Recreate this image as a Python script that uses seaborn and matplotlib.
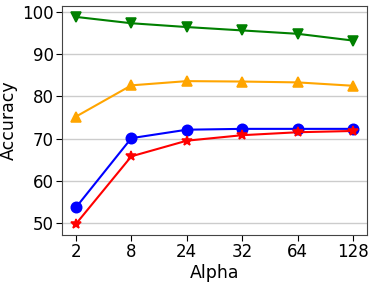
import matplotlib
matplotlib.use("Agg")
import matplotlib.pyplot as plt
import seaborn as sns

alphas = ["2", "8", "24", "32", "64", "128"]
green_acc = [98.8, 97.3, 96.4, 95.6, 94.8, 93.2]
orange_acc = [75.2, 82.6, 83.6, 83.5, 83.3, 82.5]
blue_acc = [53.7, 70.1, 72.1, 72.3, 72.3, 72.3]
red_acc = [49.8, 65.8, 69.5, 70.8, 71.5, 71.8]

sns.set_style("ticks")
plt.rcParams["font.family"] = ["DejaVu Sans"]
plt.rcParams["text.color"] = "black"
plt.rcParams["axes.labelcolor"] = "black"
plt.rcParams["xtick.color"] = "black"
plt.rcParams["ytick.color"] = "black"

fig = plt.figure(figsize=(3.74, 2.82), dpi=100)
ax = fig.add_axes([0.166, 0.167, 0.815, 0.812])

series = [
    (green_acc, "green", "v"),
    (orange_acc, "orange", "^"),
    (blue_acc, "blue", "o"),
    (red_acc, "red", "*"),
]
for vals, col, mk in series:
    sns.pointplot(x=alphas, y=vals, color=col, marker=mk, markersize=7.5,
                  linewidth=1.5, ax=ax)

ax.set_xlim(-0.25, 5.25)
ax.set_ylim(47.2, 101.4)
ax.set_yticks([50, 60, 70, 80, 90, 100])
ax.yaxis.grid(True, color="#cccccc", linewidth=1)
ax.xaxis.grid(False)
ax.set_axisbelow(True)
for s in ax.spines.values():
    s.set_color("#444444")
ax.tick_params(labelsize=12, length=4, pad=2)
ax.set_xlabel("Alpha", fontsize=12.5, labelpad=2)
ax.set_ylabel("Accuracy", fontsize=12.5, labelpad=3)

fig.savefig("out.png", dpi=100)
